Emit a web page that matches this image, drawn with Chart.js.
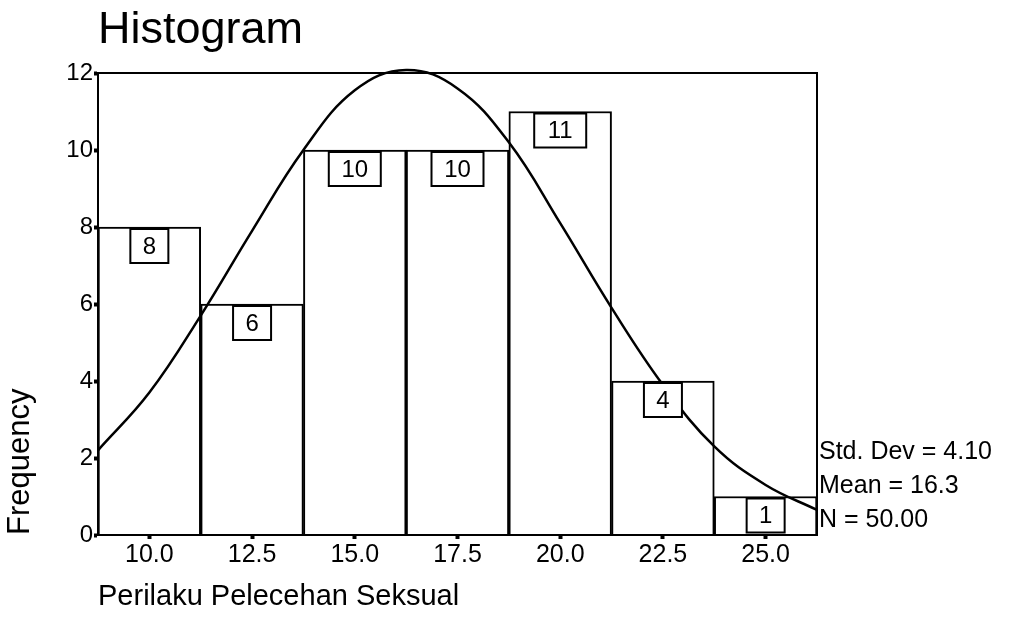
<!DOCTYPE html>
<html>
<head>
<meta charset="utf-8">
<script src="https://cdn.jsdelivr.net/npm/chart.js@4.4.1/dist/chart.umd.min.js"></script>
<style>
  html, body { margin: 0; padding: 0; background: #fff; }
  #wrap { width: 1014px; height: 635px; }
</style>
</head>
<body>
<div id="wrap"><canvas id="histChart"></canvas></div>
<script>
// Histogram bins (midpoints) and counts
const binCenters = [10.0, 12.5, 15.0, 17.5, 20.0, 22.5, 25.0];
const frequencies = [8, 6, 10, 10, 11, 4, 1];

// Normal curve, values
const curveX = [8.75, 10, 11.25, 12.5, 13.75, 15, 16.25, 17.5, 18.75, 20, 21.25, 22.5, 23.75, 25, 26.25];
const curveY = [2.2, 3.7, 5.7, 7.9, 10.0, 11.55, 12.08, 11.6, 10.2, 8.1, 5.9, 3.9, 2.3, 1.3, 0.65];

// Axis ticks
const xTicks = [10.0, 12.5, 15.0, 17.5, 20.0, 22.5, 25.0];
const yTicks = [0, 2, 4, 6, 8, 10, 12];

// Summary text at the right
const statsLines = ['Std. Dev = 4.10', 'Mean = 16.3', 'N = 50.00'];

const FONT = '"Liberation Sans", Arial, sans-serif';
Chart.defaults.font.family = FONT;
Chart.defaults.color = '#000';

// Frame, value boxes and stats text
const histExtras = {
  id: 'histExtras',
  afterDatasetsDraw(chart) {
    const ctx = chart.ctx;
    const area = chart.chartArea;
    ctx.save();
    ctx.strokeStyle = '#000';
    ctx.lineWidth = 2;
    ctx.strokeRect(area.left, area.top, area.right - area.left, area.bottom - area.top);

    ctx.font = '24px ' + FONT;
    ctx.textAlign = 'center';
    ctx.textBaseline = 'middle';
    chart.getDatasetMeta(0).data.forEach((bar, i) => {
      const label = String(frequencies[i]);
      const w = label.length > 1 ? 52 : 38;
      const h = 34;
      const top = bar.y + 2;
      ctx.fillStyle = '#fff';
      ctx.fillRect(bar.x - w / 2, top, w, h);
      ctx.strokeRect(bar.x - w / 2, top, w, h);
      ctx.fillStyle = '#000';
      ctx.fillText(label, bar.x, top + h / 2 + 1);
    });

    ctx.font = '25px ' + FONT;
    ctx.textAlign = 'left';
    statsLines.forEach((t, i) => {
      ctx.fillText(t, area.right + 2, area.bottom - 83 + i * 34);
    });
    ctx.restore();
  }
};

const ctx = document.getElementById('histChart').getContext('2d');
const histChart = new Chart(ctx, {
  type: 'bar',
  data: {
    datasets: [
      {
        type: 'bar',
        data: binCenters.map((x, i) => ({ x: x, y: frequencies[i] })),
        backgroundColor: '#fff',
        borderColor: '#000',
        borderWidth: 2,
        barPercentage: 1,
        categoryPercentage: 1,
        order: 2
      },
      {
        type: 'line',
        data: curveX.map((x, i) => ({ x: x, y: curveY[i] })),
        borderColor: '#000',
        borderWidth: 2.5,
        pointRadius: 0,
        tension: 0.4,
        fill: false,
        clip: false,
        order: 1
      }
    ]
  },
  plugins: [histExtras],
  options: {
    responsive: true,
    maintainAspectRatio: false,
    animation: false,
    layout: {
      padding: { left: 0, right: 197, top: 4, bottom: 0 }
    },
    plugins: {
      legend: { display: false },
      tooltip: { enabled: false },
      title: {
        display: true,
        text: 'Histogram',
        align: 'start',
        fullSize: false,
        font: { size: 45, weight: 'normal' },
        padding: { top: 0, bottom: 15 }
      }
    },
    scales: {
      x: {
        type: 'linear',
        min: 8.75,
        max: 26.25,
        offset: false,
        afterBuildTicks: scale => {
          scale.ticks = xTicks.map(v => ({ value: v }));
        },
        afterFit: scale => { scale.height = 100; },
        ticks: {
          font: { size: 25 },
          padding: 1,
          maxRotation: 0,
          callback: v => Number(v).toFixed(1)
        },
        grid: {
          offset: false,
          drawOnChartArea: false,
          tickLength: 4,
          tickWidth: 4,
          tickColor: '#000'
        },
        border: { display: true, color: '#000', width: 2 },
        title: {
          display: true,
          text: 'Perilaku Pelecehan Seksual',
          align: 'start',
          font: { size: 29 },
          padding: { top: 0, bottom: 21 }
        }
      },
      y: {
        min: 0,
        max: 12,
        afterBuildTicks: scale => {
          scale.ticks = yTicks.map(v => ({ value: v }));
        },
        afterFit: scale => { scale.width = 98; },
        ticks: {
          font: { size: 24 },
          padding: 1
        },
        grid: {
          drawOnChartArea: false,
          tickLength: 4,
          tickWidth: 4,
          tickColor: '#000'
        },
        border: { display: true, color: '#000', width: 2 },
        title: {
          display: true,
          text: 'Frequency',
          align: 'start',
          font: { size: 31 },
          padding: { top: 2, bottom: 0 }
        }
      }
    }
  }
});
</script>
</body>
</html>
